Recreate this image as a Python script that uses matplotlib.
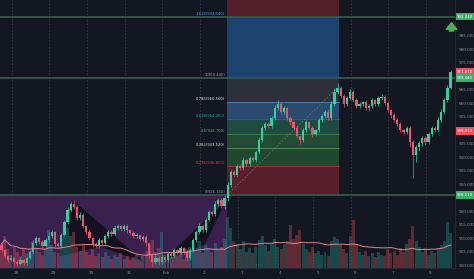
import numpy as np
import pandas as pd
import matplotlib
matplotlib.use('Agg')
import matplotlib.pyplot as plt
from matplotlib.patches import Rectangle, Polygon
import matplotlib.transforms as mtransforms

## dados (candles de 2h)
first_open = 907.6
closes = [905.7, 903.5, 902.0, 902.8, 901.3, 900.6, 902.0, 900.9, 902.8, 905.0,
          908.3, 910.2, 908.7, 907.2, 909.4, 910.9, 912.4, 908.0, 907.2, 911.3,
          916.1, 920.6, 922.8, 921.7, 917.6, 918.7, 914.6, 912.4, 910.2, 908.0,
          907.2, 909.4, 908.3, 910.9, 912.4, 911.7, 913.9, 914.6, 913.5, 914.6,
          913.1, 912.0, 910.9, 911.3, 909.8, 910.6, 908.3, 903.9, 901.3, 902.8,
          901.3, 903.1, 902.0, 904.3, 903.5, 905.7, 904.6, 906.5, 905.0, 902.8,
          905.7, 909.4, 912.4, 914.6, 913.1, 916.9, 919.8, 919.1, 922.8, 924.3,
          922.0, 925.0, 929.8, 934.6, 933.5, 936.9, 936.1, 939.1, 937.6, 939.8,
          939.1, 942.0, 946.5, 950.9, 952.4, 951.7, 954.6, 958.3, 959.8, 956.9,
          958.3, 954.6, 953.1, 950.9, 948.0, 946.5, 950.2, 953.1, 950.9, 948.7,
          950.2, 953.9, 955.4, 956.9, 954.6, 959.8, 964.3, 965.7, 962.8, 959.8,
          962.0, 964.3, 961.3, 959.1, 959.8, 960.6, 958.3, 959.1, 961.3, 959.8,
          962.0, 962.4, 960.2, 957.6, 955.7, 953.9, 952.4, 950.2, 949.4, 950.9,
          945.7, 940.9, 943.9, 945.4, 947.2, 945.7, 948.7, 950.9, 950.2, 953.9,
          956.9, 961.3, 965.7, 971.7]
upper_wick = [0.8, 0.5, 0.4, 0.9, 0.3, 0.6, 1.0, 0.4, 0.5, 0.7, 1.2, 0.8, 0.5, 0.6, 0.9, 1.5, 0.7, 0.4, 0.6, 0.8,
              0.9, 1.1, 0.7, 1.6, 0.8, 1.0, 0.6, 0.5, 0.7, 0.4, 0.6, 0.9, 0.5, 0.8, 0.7, 0.6, 1.0, 0.9, 0.5, 0.6,
              0.7, 0.4, 0.6, 0.8, 0.5, 0.7, 0.6, 0.5, 0.4, 0.9, 0.6, 1.3, 0.5, 0.8, 0.6, 0.9, 0.5, 0.7, 0.4, 0.6,
              0.8, 0.7, 0.9, 1.0, 0.6, 0.8, 0.7, 0.5, 0.9, 0.8, 0.6, 1.2, 1.0, 0.9, 0.7, 0.8, 0.6, 1.1, 0.5, 0.8,
              0.7, 0.9, 1.0, 0.8, 0.6, 0.7, 0.9, 1.2, 1.4, 0.6, 0.8, 0.5, 0.7, 0.6, 0.9, 0.5, 0.8, 0.7, 0.6, 0.9,
              0.5, 0.7, 0.8, 0.6, 0.9, 1.0, 1.3, 1.9, 0.8, 0.6, 0.9, 1.0, 0.7, 0.6, 0.8, 0.5, 0.7, 0.6, 0.9, 0.5,
              0.8, 1.0, 0.7, 0.6, 0.5, 0.8, 0.6, 0.7, 0.5, 0.9, 0.6, 0.7, 0.8, 0.6, 0.9, 0.7, 0.8, 0.6, 0.9, 1.0,
              1.1, 0.9, 1.2, 0.8]
lower_wick = [0.6, 0.9, 0.7, 0.5, 1.0, 0.8, 0.6, 0.9, 0.7, 0.5, 0.6, 0.8, 0.7, 0.9, 0.5, 0.6, 0.8, 1.2, 0.7, 0.6,
              0.5, 0.7, 0.6, 0.8, 0.9, 0.6, 0.7, 0.8, 0.9, 1.1, 0.8, 0.6, 0.7, 0.5, 0.6, 0.8, 0.5, 0.7, 0.6, 0.8,
              0.9, 0.7, 0.6, 0.8, 0.7, 0.9, 1.0, 1.2, 1.5, 0.8, 1.0, 0.9, 0.7, 0.8, 0.6, 0.7, 0.8, 0.6, 0.9, 1.1,
              0.9, 0.8, 0.7, 0.6, 0.8, 0.7, 0.6, 0.9, 0.7, 0.6, 0.8, 0.9, 1.0, 0.9, 0.8, 0.7, 0.9, 0.6, 0.8, 0.7,
              0.6, 0.8, 0.7, 0.6, 0.9, 0.7, 0.6, 0.8, 0.7, 0.9, 0.8, 0.7, 1.0, 0.9, 1.2, 1.6, 0.8, 0.7, 0.9, 1.0,
              0.8, 0.7, 0.6, 0.9, 0.8, 0.7, 0.6, 0.8, 0.9, 1.0, 0.8, 0.7, 0.9, 0.8, 0.6, 0.7, 0.8, 0.9, 0.6, 0.7,
              0.8, 0.6, 0.7, 0.9, 1.0, 0.8, 1.1, 0.9, 1.0, 0.8, 2.0, 8.5, 2.5, 1.5, 1.0, 0.9, 0.8, 0.7, 0.9, 0.6,
              0.8, 0.7, 0.6, 0.5]
volumes = [18, 24, 14, 10, 16, 12, 9, 14, 11, 13, 20, 15, 12, 10, 14, 28, 17, 12, 11, 22,
           26, 30, 24, 27, 16, 13, 18, 12, 10, 14, 9, 11, 8, 12, 9, 7, 10, 8, 11, 7,
           9, 6, 8, 10, 7, 9, 13, 17, 21, 12, 15, 27, 10, 13, 8, 11, 9, 12, 7, 14,
           16, 18, 13, 20, 11, 17, 15, 12, 19, 14, 16, 22, 38, 30, 20, 18, 14, 20, 12, 15,
           11, 16, 21, 24, 17, 13, 19, 22, 16, 14, 18, 20, 32, 22, 25, 28, 18, 14, 12, 16,
           11, 13, 10, 12, 9, 20, 23, 22, 17, 14, 11, 24, 36, 18, 12, 10, 13, 9, 11, 8,
           12, 10, 9, 14, 11, 13, 10, 15, 12, 18, 22, 31, 20, 16, 12, 14, 10, 13, 11, 15,
           17, 20, 34, 26]

day_ticks = [4.6, 16.6, 28.6, 40.6, 52.6, 64.6, 76.6, 88.6, 100.6, 112.6, 124.6, 136.6]
day_labels = ['28', '29', '30', '31', 'Feb', '2', '3', '4', '5', '6', '7', '8']
grid_x = [3.2, 15.2, 27.2, 39.2, 51.2, 63.2, 75.2, 87.2, 99.2, 111.2, 123.2, 135.2]

# fibonacci
fib_start, fib_end = 71.8, 107.3
fib_prices = [926.1, 936.9, 943.5, 948.7, 954.3, 960.6, 969.4, 992.0]
fib_labels = ['0(926.110)', '0.236(936.850)', '0.382(943.520)', '0.5(948.700)',
              '0.618(954.260)', '0.786(960.560)', '1(969.440)', '1.618(992.040)']
fib_line_colors = ['#787b86', '#f23645', '#81c784', '#4caf50', '#089981', '#64b5f6', '#787b86', '#2962ff']
fib_text_colors = ['#9598a1', '#f23645', '#c8e6c9', '#4caf50', '#26a69a', '#e0e3eb', '#9598a1', '#5b8def']
zone_colors = ['#561f2b', '#22472f', '#234a32', '#1f4a42', '#2a4a70', '#2d2f3a', '#1c4270', '#521e29']

h_levels = [992.0, 969.4, 926.1]
tags = [(992.04, '992.040', '#3fae6a'), (971.67, '971.670', '#f0505e'),
        (969.44, '969.440', '#3fae6a'), (949.81, '949.810', '#f0505e'),
        (926.11, '926.110', '#3fae6a')]
price_ticks = [900, 905, 910, 915, 920, 930, 935, 940, 945, 955, 960, 965, 975, 980, 985]

pattern_a = [(18.0, 903.1), (22.8, 924.3), (46.3, 900.6), (31.4, 906.8)]
pattern_b = [(50.5, 901.3), (71.8, 924.3), (64.8, 907.6)]

bg = '#131722'
up_col, dn_col = '#2fd3a0', '#ee5470'

fig = plt.figure(figsize=(4.74, 2.79), dpi=100, facecolor=bg)
ax = fig.add_axes([0, 11/279, 455/474, 268/279])
ax.set_facecolor(bg)
ymin, ymax = 899.07, 998.33
ax.set_xlim(-0.5, 144.4)
ax.set_ylim(ymin, ymax)

## grade
for gx in grid_x:
    ax.axvline(gx, color='#363a45', lw=0.6, ls=(0, (2, 2)), zorder=0)

## caixa roxa
ax.add_patch(Rectangle((-0.5, ymin), fib_start + 0.5, fib_prices[0] - ymin,
                       color='#3c2152', alpha=0.95, zorder=1, lw=0))

## zonas fibonacci
bounds = fib_prices + [ymax]
for k in range(len(zone_colors)):
    ax.add_patch(Rectangle((fib_start, bounds[k]), fib_end - fib_start, bounds[k + 1] - bounds[k],
                           color=zone_colors[k], zorder=1, lw=0))
for p, lab, lc, tc in zip(fib_prices, fib_labels, fib_line_colors, fib_text_colors):
    ax.plot([fib_start, fib_end], [p, p], color=lc, lw=0.5, alpha=0.7, zorder=2)
    ax.text(fib_start - 0.6, p + 0.3, lab, color=tc, fontsize=2.7, ha='right', va='bottom', zorder=6)

for p in h_levels:
    ax.axhline(p, color='#34594b', lw=1.3, zorder=2)

# linha de tendência do fib
ax.plot([fib_start, fib_end - 0.5], [fib_prices[0], 965.7], color='#9598a1', lw=0.5,
        ls=(0, (3, 2)), alpha=0.6, zorder=3)

## padrões escuros
for pts in (pattern_a, pattern_b):
    ax.add_patch(Polygon(pts, closed=True, facecolor='#0b0d14', edgecolor='#2f3340',
                         lw=0.5, alpha=0.8, zorder=2))

## candles
opens = [first_open] + closes[:-1]
idx = np.arange(len(closes))
df = pd.DataFrame({'open': opens, 'close': closes, 'up': upper_wick, 'dn': lower_wick, 'vol': volumes})
df['high'] = df[['open', 'close']].max(axis=1) + df['up']
df['low'] = df[['open', 'close']].min(axis=1) - df['dn']
colors = np.where(df['close'] >= df['open'], up_col, dn_col)
ax.vlines(idx, df['low'], df['high'], colors=colors, lw=0.5, zorder=4)
body = (df['close'] - df['open']).abs().clip(lower=0.25)
ax.bar(idx, body, bottom=df[['open', 'close']].min(axis=1), width=0.72, color=colors, lw=0, zorder=5)

## volume
axv = ax.twinx()
axv.set_ylim(0, 200)
axv.set_xlim(ax.get_xlim())
vcol = np.where(df['close'] >= df['open'], '#26a69a', '#ef5350')
axv.bar(idx, df['vol'], width=0.95, color=vcol, alpha=0.35, lw=0, zorder=1)
axv.plot(idx, df['vol'].rolling(20, min_periods=1).mean(), color='#e0868a', lw=0.7, zorder=2)
axv.axis('off')

## eixos
ax.yaxis.tick_right()
ax.set_yticks(price_ticks)
ax.set_yticklabels([f'{p:.3f}' for p in price_ticks])
ax.tick_params(axis='y', colors='#8a8e99', labelsize=3.0, length=0, pad=2.5)
ax.set_xticks(day_ticks)
ax.set_xticklabels(day_labels)
ax.tick_params(axis='x', colors='#8a8e99', labelsize=3.0, length=0, pad=2.5)
for s in ax.spines.values():
    s.set_color('#2a2e39')
    s.set_linewidth(0.6)
ax.spines['top'].set_visible(False)
ax.spines['left'].set_visible(False)

trans = mtransforms.blended_transform_factory(ax.transAxes, ax.transData)
for p, txt, c in tags:
    ax.add_patch(Rectangle((1.003, p - 1.3), 0.04, 2.6, transform=trans, color=c,
                           clip_on=False, zorder=10, lw=0))
    ax.text(1.022, p, txt, transform=trans, color='white', fontsize=2.8,
            ha='center', va='center', clip_on=False, zorder=11)

# seta verde
ax.annotate('', xy=(143.3, 991.0), xytext=(143.3, 985.8),
            arrowprops=dict(arrowstyle='simple,head_length=0.7,head_width=1.1,tail_width=0.45',
                            color='#4caf50', mutation_scale=7), zorder=9)

fig.savefig('out.png', dpi=100, facecolor=bg)
